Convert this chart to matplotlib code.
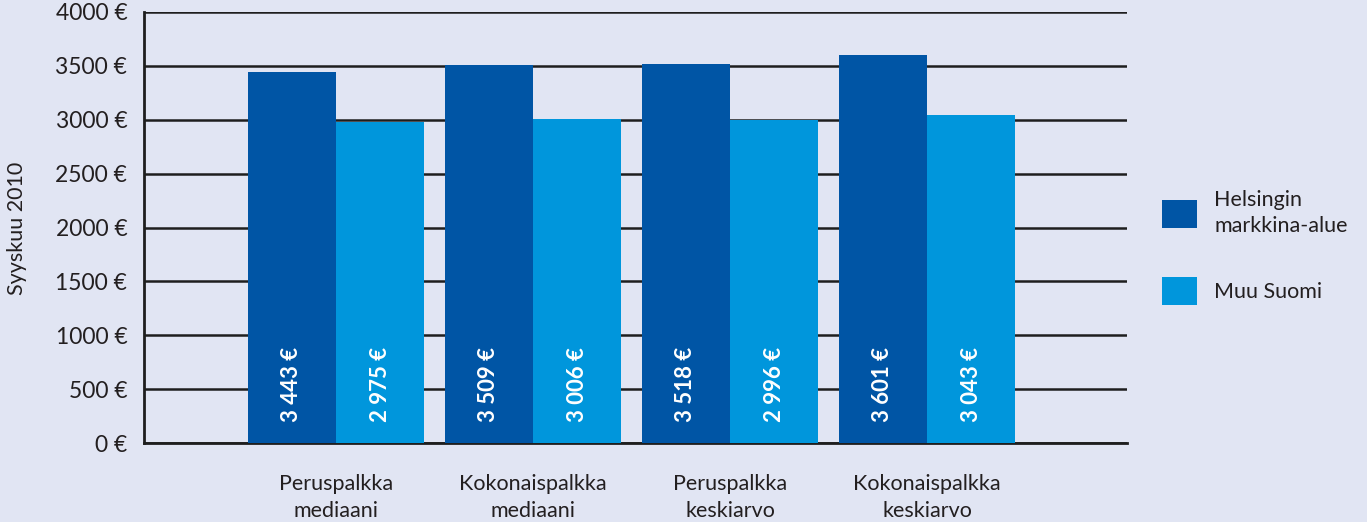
import matplotlib
matplotlib.use("Agg")
import matplotlib.pyplot as plt
from matplotlib.patches import Patch
import numpy as np

categories = ["Peruspalkka\nmediaani", "Kokonaispalkka\nmediaani", "Peruspalkka\nkeskiarvo", "Kokonaispalkka\nkeskiarvo"]
series_names = ["Helsingin\nmarkkina-alue", "Muu Suomi"]
helsinki = [3443, 3509, 3518, 3601]
muu_suomi = [2975, 3006, 2996, 3043]
value_labels_h = ["3 443 €", "3 509 €", "3 518 €", "3 601 €"]
value_labels_m = ["2 975 €", "3 006 €", "2 996 €", "3 043 €"]
yticks = [0, 500, 1000, 1500, 2000, 2500, 3000, 3500, 4000]
ytick_labels = [f"{v} €" for v in yticks]
y_label = "Syyskuu 2010"

dark = "#0055a5"
light = "#0096dc"
bg = "#e1e5f3"
txt = "#231f20"

plt.rcParams['font.family'] = ['Lato', 'DejaVu Sans']

W, H = 1367, 522
fig = plt.figure(figsize=(W/100, H/100), dpi=100, facecolor=bg)
ax = fig.add_axes([144/W, 1-443/H, (1127-144)/W, (443-12)/H])
ax.set_facecolor('none')

x = np.arange(len(categories))
bw = 0.448
b1 = ax.bar(x - bw/2, helsinki, width=bw, color=dark, zorder=3)
b2 = ax.bar(x + bw/2, muu_suomi, width=bw, color=light, zorder=3)

for rects, labs in ((b1, value_labels_h), (b2, value_labels_m)):
    for r, lab in zip(rects, labs):
        ax.annotate(lab, (r.get_x() + r.get_width()/2, 0), xytext=(0, 15),
                    textcoords='offset points', rotation=90, ha='center', va='bottom',
                    color='white', fontsize=16, fontweight='bold', zorder=4)

ax.set_xlim(-0.975, 4.015)
ax.set_ylim(0, 4000)
ax.set_yticks(yticks)
ax.set_yticklabels(ytick_labels, fontsize=16.5, color=txt)
ax.set_xticks(x)
ax.set_xticklabels(categories, fontsize=15.5, color=txt, linespacing=1.45)
ax.tick_params(axis='y', length=0, pad=12)
ax.tick_params(axis='x', length=0, pad=22)
ax.yaxis.grid(True, color='#1e1e1e', linewidth=1.8, zorder=1)
ax.set_axisbelow(True)
for s in ('top', 'right'):
    ax.spines[s].set_visible(False)
ax.spines['left'].set_linewidth(2)
ax.spines['left'].set_color('#1e1e1e')
ax.spines['bottom'].set_linewidth(2)
ax.spines['bottom'].set_color('#1e1e1e')

fig.text(17/W, 1-228/H, y_label, rotation=90, ha='center', va='center', fontsize=15.5, color=txt)

handles = [Patch(facecolor=dark, edgecolor='none'), Patch(facecolor=light, edgecolor='none')]
leg = fig.legend(handles, series_names, loc='upper left', bbox_to_anchor=(1162/W, 1-190/H),
                 frameon=False, fontsize=15.5, handlelength=1.62, handleheight=1.62,
                 handletextpad=0.8, labelspacing=1.9, borderpad=0, borderaxespad=0)
for t in leg.get_texts():
    t.set_color(txt)
    t.set_linespacing(1.4)

fig.savefig("out.png", dpi=100, facecolor=bg)
